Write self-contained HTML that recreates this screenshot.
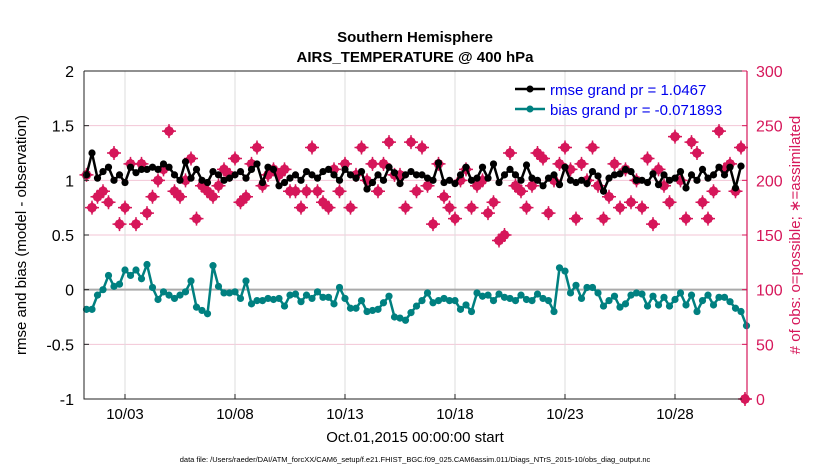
<!DOCTYPE html>
<html><head><meta charset="utf-8">
<style>
body{margin:0;background:#fff;}
svg text{font-family:"Liberation Sans",sans-serif;}
</style></head>
<body>
<svg id="chart" width="830" height="470" viewBox="0 0 830 470" xmlns="http://www.w3.org/2000/svg">
<rect width="830" height="470" fill="#fff"/>
<text x="415" y="42" text-anchor="middle" font-size="15" font-weight="bold">Southern Hemisphere</text>
<text x="415" y="62" text-anchor="middle" font-size="15" font-weight="bold">AIRS_TEMPERATURE @ 400 hPa</text>
<g id="grid"></g>
<g id="marks"></g>
<g id="axes"></g>
<text transform="translate(26,235) rotate(-90)" text-anchor="middle" font-size="15">rmse and bias (model - observation)</text>
<text transform="translate(800,235) rotate(-90)" text-anchor="middle" font-size="15" fill="#d6175a"># of obs: o=possible; ∗=assimilated</text>
<text x="415" y="442" text-anchor="middle" font-size="15">Oct.01,2015 00:00:00 start</text>
<text x="415" y="462" text-anchor="middle" font-size="7.5">data file: /Users/raeder/DAI/ATM_forcXX/CAM6_setup/f.e21.FHIST_BGC.f09_025.CAM6assim.011/Diags_NTrS_2015-10/obs_diag_output.nc</text>
<g>
<line x1="515" y1="89" x2="545" y2="89" stroke="#000" stroke-width="2.5"/><circle cx="530" cy="89" r="3.5" fill="#000"/>
<text x="550" y="95" font-size="15" fill="#0000ee">rmse grand pr = 1.0467</text>
<line x1="515" y1="109" x2="545" y2="109" stroke="#008080" stroke-width="2.5"/><circle cx="530" cy="109" r="3.5" fill="#008080"/>
<text x="550" y="115" font-size="15" fill="#0000ee">bias grand pr = -0.071893</text>
</g>
</svg>
<script>
const dateTicks = [3,8,13,18,23,28];
const dateLabels = ["10/03","10/08","10/13","10/18","10/23","10/28"];
const leftTicks = [-1,-0.5,0,0.5,1,1.5,2];
const leftLabels = ["-1","-0.5","0","0.5","1","1.5","2"];
const rightTicks = [0,50,100,150,200,250,300];
const startDay = 1.25;
const stepDays = 0.25;
const rmse = [1.05,1.25,1.02,1.08,1.12,1.0,1.05,0.98,1.12,1.07,1.1,1.1,1.12,1.1,1.15,1.12,1.05,1.0,1.17,1.02,1.1,1.0,0.98,1.08,1.05,1.0,1.02,1.05,1.08,1.02,1.1,1.15,0.98,1.12,1.1,0.95,0.98,1.02,1.05,1.0,1.08,1.05,1.02,1.08,1.1,1.05,1.0,1.1,1.05,1.02,1.08,0.92,0.98,1.05,1.0,1.12,1.07,0.97,1.05,1.08,1.05,1.05,1.02,1.0,1.16,0.98,1.0,0.97,1.05,1.12,1.0,1.02,1.12,1.02,1.15,0.98,1.05,1.1,1.05,1.0,1.14,1.02,1.0,0.95,1.02,1.05,0.96,1.12,1.0,0.98,1.0,0.97,1.08,1.04,0.9,1.02,1.05,1.06,1.1,1.08,1.0,1.0,0.98,1.06,0.96,1.05,1.0,1.02,1.08,0.93,1.05,1.0,1.1,1.02,1.05,1.12,1.05,1.12,0.93,1.13];
const bias = [-0.18,-0.18,-0.05,0.0,0.13,0.03,0.05,0.18,0.13,0.18,0.1,0.23,0.02,-0.09,-0.02,-0.05,-0.08,-0.05,-0.02,0.08,-0.16,-0.19,-0.22,0.22,0.03,-0.03,-0.03,-0.02,-0.08,0.08,-0.13,-0.1,-0.1,-0.08,-0.09,-0.08,-0.15,-0.05,-0.04,-0.11,-0.05,-0.08,-0.02,-0.07,-0.07,-0.13,0.02,-0.08,-0.17,-0.17,-0.1,-0.2,-0.19,-0.18,-0.12,-0.06,-0.25,-0.26,-0.28,-0.21,-0.15,-0.1,-0.03,-0.12,-0.1,-0.08,-0.1,-0.1,-0.18,-0.14,-0.2,-0.03,-0.06,-0.05,-0.1,-0.04,-0.07,-0.08,-0.1,-0.05,-0.09,-0.1,-0.04,-0.08,-0.1,-0.2,0.2,0.17,-0.03,0.04,-0.08,0.02,0.02,-0.03,-0.15,-0.1,-0.06,-0.16,-0.13,-0.05,-0.03,-0.04,-0.15,-0.06,-0.14,-0.07,-0.15,-0.09,-0.03,-0.14,-0.05,-0.2,-0.1,-0.05,-0.14,-0.07,-0.07,-0.11,-0.17,-0.2,-0.33];
const obsCount = [205,175,185,190,180,225,160,175,215,160,215,170,185,200,210,245,190,185,200,220,165,195,190,185,195,210,205,220,180,185,215,230,195,205,210,205,210,190,190,175,190,230,190,180,175,210,190,215,175,205,230,200,215,190,215,235,205,205,175,235,190,230,195,160,215,185,175,165,200,210,175,195,200,170,180,145,150,225,195,190,175,195,225,220,170,200,215,230,210,165,215,200,230,195,165,185,215,175,210,180,200,175,220,160,210,195,180,240,200,165,235,225,180,165,190,245,210,215,190,230];
const finalObs = 0;

const NS = "http://www.w3.org/2000/svg";
const X0=84, X1=747, Y0=71, Y1=399;
const dayPx = 22, dayOrigin = 81;
function xs(day){return dayOrigin + (day-1)*dayPx;}
function yl(v){return Y1 - (v+1)/3*(Y1-Y0);}
function yr(v){return Y1 - v/300*(Y1-Y0);}
function mk(tag, attrs, parent){const e=document.createElementNS(NS,tag);for(const k in attrs)e.setAttribute(k,attrs[k]);parent.appendChild(e);return e;}
const grid=document.getElementById('grid'), marks=document.getElementById('marks'), axes=document.getElementById('axes');

rightTicks.forEach(v=>{ if(v>0&&v<300){
  const l=mk('line',{x1:X0,x2:X1,y1:yr(v),y2:yr(v),stroke:'#f3c6d6','stroke-width':1},grid);
  
  
}});
dateTicks.forEach(d=>{
  const l=mk('line',{x1:xs(d),x2:xs(d),y1:Y0,y2:Y1,stroke:'#ddd','stroke-width':1},grid);
  
  
});
const zl=mk('line',{x1:X0,x2:X1,y1:yl(0),y2:yl(0),stroke:'#aaa','stroke-width':2},grid);



function diamond(x,y,parent){
  const g=mk('g',{},parent);
  mk('path',{d:`M${x},${y-6}L${x+6},${y}L${x},${y+6}L${x-6},${y}Z`,fill:'#d6175a'},g);
  mk('rect',{x:x-4,y:y-4,width:8,height:8,fill:'#d6175a',rx:2},g);
  mk('path',{d:`M${x-7},${y}H${x+7}M${x},${y-7}V${y+7}`,stroke:'#d6175a','stroke-width':1.5},g);
  return g;
}
obsCount.forEach((c,i)=>{
  const g=diamond(xs(startDay+i*stepDays), yr(c), marks);
  
  
});
{
  const g=diamond(X1-2, yr(finalObs), marks);
  
  
}
function series(arr,color,name){
  const pts=arr.map((v,i)=>[xs(startDay+i*stepDays),yl(v)]);
  const pl=mk('polyline',{points:pts.map(p=>p.join(',')).join(' '),fill:'none',stroke:color,'stroke-width':2.5,'stroke-linejoin':'round'},marks);
  
  
  pts.forEach(p=>{
    const c=mk('circle',{cx:p[0],cy:p[1],r:3.6,fill:color},marks);
    
    
  });
}
series(bias,'#008080','bias');
series(rmse,'#000000','rmse');

const fr=mk('path',{d:`M${X0},${Y0}H${X1}M${X0},${Y0}V${Y1}H${X1}`,fill:'none',stroke:'#222','stroke-width':1},axes);


const ra=mk('line',{x1:X1,x2:X1,y1:Y0,y2:Y1,stroke:'#d6175a','stroke-width':1.2},axes);


leftTicks.forEach((v,i)=>{
  const t=mk('text',{x:X0-10,y:yl(v)+6,'text-anchor':'end','font-size':16},axes);
  t.textContent=leftLabels[i];
  
  
  mk('line',{x1:X0,x2:X0+5,y1:yl(v),y2:yl(v),stroke:'#222'},axes);
});
rightTicks.forEach(v=>{
  const t=mk('text',{x:X1+9,y:yr(v)+6,'font-size':16,fill:'#d6175a'},axes);
  t.textContent=String(v);
  
  
  mk('line',{x1:X1-5,x2:X1,y1:yr(v),y2:yr(v),stroke:'#d6175a'},axes);
});
dateTicks.forEach((d,i)=>{
  const t=mk('text',{x:xs(d),y:Y1+20,'text-anchor':'middle','font-size':15},axes);
  t.textContent=dateLabels[i];
  
  
  mk('line',{x1:xs(d),x2:xs(d),y1:Y1,y2:Y1-5,stroke:'#222'},axes);
});
</script>
</body></html>
